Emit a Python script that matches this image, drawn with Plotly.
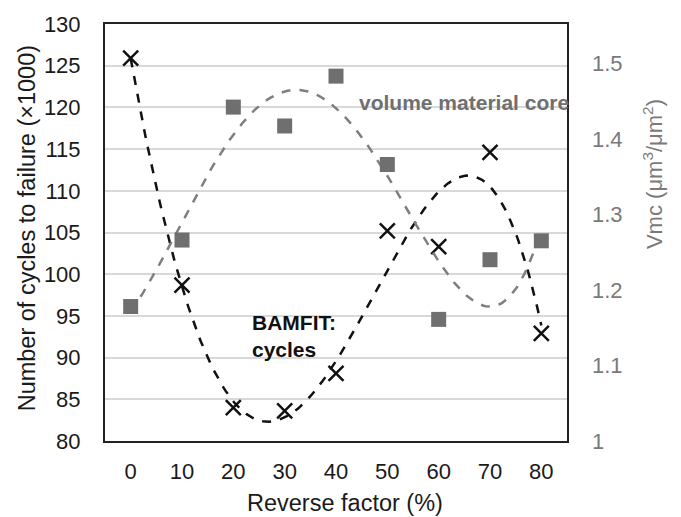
import numpy as np
import plotly.graph_objects as go

reverse_factor = [0, 10, 20, 30, 40, 50, 60, 70, 80]
cycles_k = [125.9, 98.7, 84.0, 83.6, 88.1, 105.2, 103.3, 114.6, 92.9]
vmc = [1.178, 1.266, 1.442, 1.417, 1.483, 1.366, 1.161, 1.240, 1.265]

x_fit = np.linspace(0, 80, 200)
c_fit = np.polyval(np.polyfit(reverse_factor, cycles_k, 4), x_fit)
v_fit = np.polyval(np.polyfit(reverse_factor, vmc, 4), x_fit)

FONT = "Liberation Sans, Arial, sans-serif"
DARK = "#1a1a1a"
GRAY = "#7a7a7a"
CLEAR = "rgba(0,0,0,0)"

fig = go.Figure()
fig.add_trace(go.Scatter(x=x_fit, y=v_fit, mode="lines", yaxis="y2",
                         line=dict(color="#7f7f7f", width=2.5, dash="dash"),
                         showlegend=False, hoverinfo="skip"))
fig.add_trace(go.Scatter(x=x_fit, y=c_fit, mode="lines",
                         line=dict(color="#111111", width=2.5, dash="dash"),
                         showlegend=False, hoverinfo="skip"))
fig.add_trace(go.Scatter(x=reverse_factor, y=vmc, mode="markers", yaxis="y2",
                         marker=dict(symbol="square", size=15, color="#6f6f6f"),
                         showlegend=False))
fig.add_trace(go.Scatter(x=reverse_factor, y=cycles_k, mode="markers",
                         marker=dict(symbol="x-thin", size=15, color="#111111",
                                     line=dict(color="#111111", width=2.5)),
                         showlegend=False))

fig.update_layout(
    width=681, height=517,
    margin=dict(l=105, r=114, t=16, b=76),
    paper_bgcolor="white", plot_bgcolor="white",
    font=dict(family=FONT, size=22, color=DARK),
    xaxis=dict(range=[-5, 85], tickvals=reverse_factor,
               ticktext=[str(v) for v in reverse_factor],
               showgrid=False, zeroline=False,
               showline=True, linecolor="#222222", linewidth=2, mirror=True,
               ticks="", ticklabelstandoff=10,
               tickfont=dict(size=22, color=DARK)),
    yaxis=dict(range=[80, 130], tickvals=list(range(80, 131, 5)),
               showgrid=True, gridcolor="#d9d9d9", gridwidth=1.5,
               zeroline=False, showline=True, linecolor="#222222", linewidth=2,
               mirror=True, ticks="outside", ticklen=18, tickcolor=CLEAR,
               tickfont=dict(size=22, color=DARK)),
    yaxis2=dict(range=[1, 1.552], overlaying="y", side="right",
                tickvals=[1, 1.1, 1.2, 1.3, 1.4, 1.5],
                ticktext=["1", "1.1", "1.2", "1.3", "1.4", "1.5"],
                showgrid=False, zeroline=False, showline=False, ticks="",
                ticklabelstandoff=24,
                tickfont=dict(size=22, color=GRAY)),
    annotations=[
        dict(x=0.52, y=-0.148, xref="paper", yref="paper",
             text="Reverse factor (%)", showarrow=False,
             xanchor="center", yanchor="middle",
             font=dict(size=23.5, color=DARK, family=FONT)),
        dict(x=-0.1688, y=0.51, xref="paper", yref="paper", textangle=-90,
             text="Number of cycles to failure (×1000)", showarrow=False,
             xanchor="center", yanchor="middle",
             font=dict(size=23.5, color=DARK, family=FONT)),
        dict(x=1.186, y=0.64, xref="paper", yref="paper", textangle=-90,
             text="Vmc (μm<sup>3</sup>/μm<sup>2</sup>)", showarrow=False,
             xanchor="center", yanchor="middle",
             font=dict(size=22, color=GRAY, family=FONT)),
        dict(x=1.0087, y=0.8125, xref="paper", yref="paper",
             text="<b>volume material core</b>",
             showarrow=False, xanchor="right", yanchor="middle",
             font=dict(size=21, color="#6f6f6f", family=FONT)),
        dict(x=0.3139, y=0.2506, xref="paper", yref="paper",
             text="<b>BAMFIT:<br>cycles</b>",
             showarrow=False, xanchor="left", yanchor="middle", align="left",
             font=dict(size=21, color="#111111", family=FONT)),
    ],
)
fig.write_html("out.html")
